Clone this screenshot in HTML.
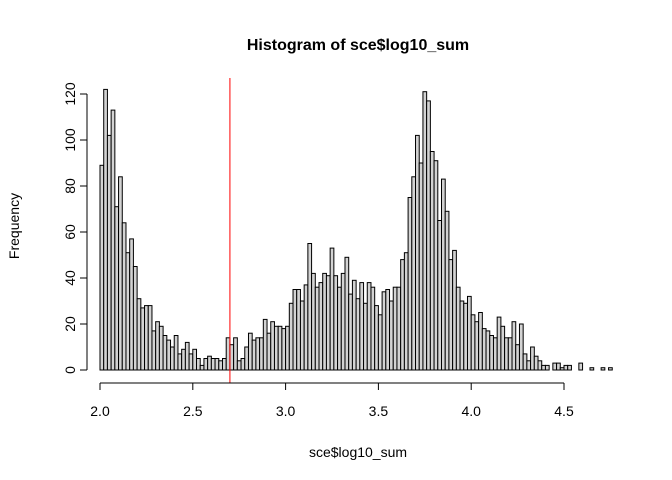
<!DOCTYPE html>
<html><head><meta charset="utf-8"><style>body{margin:0;background:#fff}svg{display:block;font-family:"Liberation Sans",Arial,sans-serif}</style></head>
<body>
<svg id="c" width="672" height="480">
<text x="358" y="50" text-anchor="middle" font-size="16" font-weight="bold">Histogram of sce$log10_sum</text>
<text x="358" y="457" text-anchor="middle" font-size="14">sce$log10_sum</text>
<text transform="translate(19,226) rotate(-90)" text-anchor="middle" font-size="14">Frequency</text>
<g id="bars"></g>
<g id="axes"></g>
</svg>
<script>
const counts = [89,122,102,113,71,84,64,51,57,45,31,27,28,28,17,21,19,15,13,10,15,7,9,12,7,9,5,2,5,6,5,5,4,5,14,
11,14,4,5,10,16,13,14,14,22,16,21,19,19,18,19,29,35,35,30,37,55,42,36,38,42,41,53,41,36,42,49,33,39,31,38,29,38,36,28,
24,34,35,30,36,36,48,51,75,84,102,90,121,117,95,91,65,83,69,48,52,36,30,29,32,24,
21,25,18,17,15,14,23,19,14,14,21,11,20,7,4,10,6,4,2,2,0,3,3,1,2,2,0,0,3,0,0,1,0,0,1,0,1];
const binStart = 2.0;
const binWidth = 0.02;
const xTicks = [2.0,2.5,3.0,3.5,4.0,4.5];
const xTickLabels = ["2.0","2.5","3.0","3.5","4.0","4.5"];
const yTicks = [0,20,40,60,80,100,120];
const cutoff = 2.7;
const xs = v => 100 + (v - 2.0) * 185.6;
const ys = v => 370 - v * 2.3;
const NS = "http://www.w3.org/2000/svg";
const bars = document.getElementById('bars'), axes = document.getElementById('axes');
function mk(p, tag, at){const e=document.createElementNS(NS,tag);for(const k in at)e.setAttribute(k,at[k]);p.appendChild(e);return e;}
counts.forEach((c,i)=>{
  const x0 = xs(binStart+i*binWidth), x1 = xs(binStart+(i+1)*binWidth);
  const r = mk(bars,'rect',{x:x0,y:ys(c),width:x1-x0,height:ys(0)-ys(c),fill:'#d3d3d3',stroke:'#000','stroke-width':1});
  
  
});
const rl = mk(bars,'line',{x1:xs(cutoff),x2:xs(cutoff),y1:78,y2:383,stroke:'#ff0000','stroke-width':1});


mk(axes,'line',{x1:xs(2.0),x2:xs(4.5),y1:383,y2:383,stroke:'#000'});
xTicks.forEach((t,i)=>{
  mk(axes,'line',{x1:xs(t),x2:xs(t),y1:383,y2:390,stroke:'#000'});
  const tx = mk(axes,'text',{x:xs(t),y:416,'text-anchor':'middle','font-size':14});
  tx.textContent = xTickLabels[i];
  
  
});
mk(axes,'line',{x1:87,x2:87,y1:ys(0),y2:ys(120),stroke:'#000'});
yTicks.forEach(t=>{
  mk(axes,'line',{x1:80,x2:87,y1:ys(t),y2:ys(t),stroke:'#000'});
  const tx = mk(axes,'text',{transform:`translate(75,${ys(t)}) rotate(-90)`,'text-anchor':'middle','font-size':14});
  tx.textContent = t;
  
  
});
</script>
</body></html>
